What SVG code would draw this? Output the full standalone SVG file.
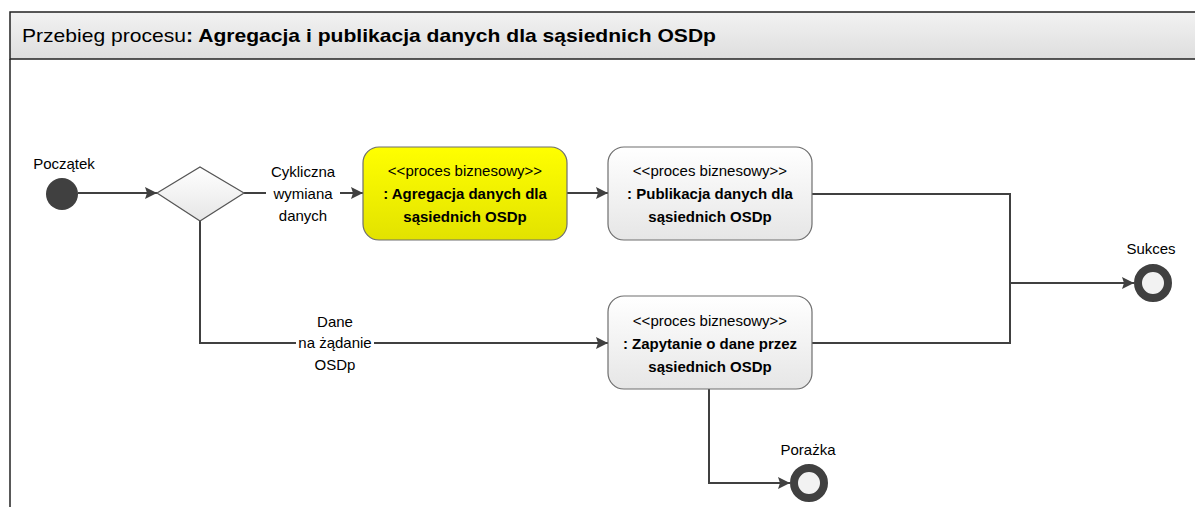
<svg xmlns="http://www.w3.org/2000/svg" width="1195" height="507" viewBox="0 0 1195 507">
<defs>
<linearGradient id="hdr" x1="0" y1="0" x2="0" y2="1"><stop offset="0" stop-color="#f2f2f2"/><stop offset="1" stop-color="#dedede"/></linearGradient>
<linearGradient id="gray" x1="0" y1="0" x2="0" y2="1"><stop offset="0" stop-color="#ffffff"/><stop offset="1" stop-color="#e6e6e6"/></linearGradient>
<linearGradient id="yel" x1="0" y1="0" x2="0" y2="1"><stop offset="0" stop-color="#ffff00"/><stop offset="1" stop-color="#e2e200"/></linearGradient>
<marker id="arr" viewBox="0 0 12 12" refX="12" refY="6" markerWidth="12" markerHeight="12" markerUnits="userSpaceOnUse" orient="auto"><path d="M0,0 L12,6 L0,12 L2,6 Z" fill="#404040"/></marker>
<style>
.t{font-family:"Liberation Sans",Arial,sans-serif;font-size:15px;fill:#000}
.b{font-weight:bold}
.c{stroke:#404040;stroke-width:2;fill:none}
.box{stroke:#6e6e6e;stroke-width:1.2}
</style>
</defs>
<rect x="0" y="0" width="1195" height="507" fill="#fff"/>
<g id="frame">
<rect x="10" y="12" width="1190" height="47" fill="url(#hdr)" stroke="#222" stroke-width="1.5"/>
<line x1="10" y1="59" x2="10" y2="507" stroke="#222" stroke-width="1.5"/>
<text x="22" y="42" style="font-family:'Liberation Sans',Arial,sans-serif;font-size:19px" textLength="694" lengthAdjust="spacingAndGlyphs">Przebieg procesu<tspan font-weight="bold">: Agregacja i publikacja danych dla sąsiednich OSDp</tspan></text>
</g>
<g id="connectors">
<line class="c" x1="78" y1="193" x2="157" y2="193" marker-end="url(#arr)"/>
<line class="c" x1="244" y1="193" x2="266" y2="193"/>
<line class="c" x1="340" y1="193" x2="363" y2="193" marker-end="url(#arr)"/>
<line class="c" x1="567" y1="193" x2="608" y2="193" marker-end="url(#arr)"/>
<polyline class="c" points="200,221 200,343 296,343"/>
<line class="c" x1="374" y1="343" x2="608" y2="343" marker-end="url(#arr)"/>
<polyline class="c" points="812,194 1010,194 1010,343 812,343"/>
<line class="c" x1="1010" y1="283" x2="1134" y2="283" marker-end="url(#arr)"/>
<polyline class="c" points="709,389 709,483 790,483" marker-end="url(#arr)"/>
<text class="t" x="303" y="177" text-anchor="middle">Cykliczna</text>
<text class="t" x="303" y="199" text-anchor="middle">wymiana</text>
<text class="t" x="303" y="221" text-anchor="middle">danych</text>
<text class="t" x="335" y="327" text-anchor="middle">Dane</text>
<text class="t" x="335" y="348" text-anchor="middle">na żądanie</text>
<text class="t" x="335" y="370" text-anchor="middle">OSDp</text>
</g>
<g id="start">
<circle cx="62" cy="194" r="16" fill="#404040"/>
<text class="t" x="64" y="169" text-anchor="middle">Początek</text>
</g>
<g id="decision">
<polygon points="157,193 200,167 244,193 200,221" fill="url(#gray)" stroke="#555" stroke-width="1.2"/>
</g>
<g id="agregacja">
<rect class="box" x="363" y="147" width="204" height="93" rx="16" fill="url(#yel)"/>
<text class="t" x="465" y="176" text-anchor="middle">&lt;&lt;proces biznesowy&gt;&gt;</text>
<text class="t b" x="465" y="199" text-anchor="middle">: Agregacja danych dla</text>
<text class="t b" x="465" y="222" text-anchor="middle">sąsiednich OSDp</text>
</g>
<g id="publikacja">
<rect class="box" x="608" y="147" width="204" height="93" rx="16" fill="url(#gray)"/>
<text class="t" x="710" y="176" text-anchor="middle">&lt;&lt;proces biznesowy&gt;&gt;</text>
<text class="t b" x="710" y="199" text-anchor="middle">: Publikacja danych dla</text>
<text class="t b" x="710" y="222" text-anchor="middle">sąsiednich OSDp</text>
</g>
<g id="zapytanie">
<rect class="box" x="608" y="296" width="204" height="93" rx="16" fill="url(#gray)"/>
<text class="t" x="710" y="326" text-anchor="middle">&lt;&lt;proces biznesowy&gt;&gt;</text>
<text class="t b" x="710" y="349" text-anchor="middle">: Zapytanie o dane przez</text>
<text class="t b" x="710" y="372" text-anchor="middle">sąsiednich OSDp</text>
</g>
<g id="sukces">
<circle cx="1153" cy="283" r="15" fill="#f2f2f2" stroke="#404040" stroke-width="8"/>
<text class="t" x="1151" y="254" text-anchor="middle">Sukces</text>
</g>
<g id="porazka">
<circle cx="809" cy="483" r="15" fill="#f2f2f2" stroke="#404040" stroke-width="8"/>
<text class="t" x="808" y="455" text-anchor="middle">Porażka</text>
</g>
</svg>
